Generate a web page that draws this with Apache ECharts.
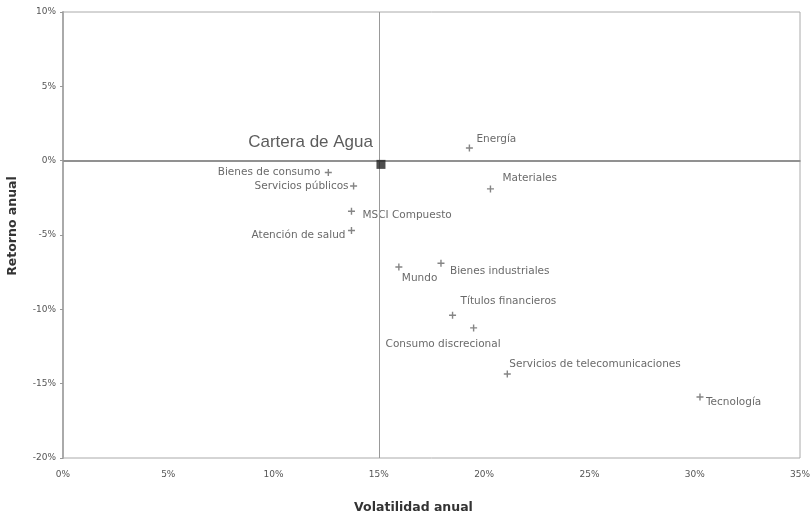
<!DOCTYPE html>
<html><head><meta charset="utf-8">
<script src="https://cdn.jsdelivr.net/npm/echarts@6/dist/echarts.min.js"></script>
<style>html,body{margin:0;padding:0;background:#fff}#c{width:811px;height:517px}</style>
</head><body><div id="c"></div>
<script>
const sectorNames = ['Energía','Materiales','Bienes de consumo','Servicios públicos','MSCI Compuesto','Atención de salud','Mundo','Bienes industriales','Títulos financieros','Consumo discrecional','Servicios de telecomunicaciones','Tecnología'];
const volatility = [19.3, 20.3, 12.6, 13.8, 13.7, 13.7, 15.95, 17.95, 18.5, 19.5, 21.1, 30.25];
const annualReturn = [0.85, -1.9, -0.8, -1.7, -3.4, -4.7, -7.15, -6.9, -10.4, -11.25, -14.35, -15.9];
const portfolioName = 'Cartera de Agua';
const portfolioVol = 15.1;
const portfolioRet = -0.25;
const xTicks = [0,5,10,15,20,25,30,35];
const yTicks = [-20,-15,-10,-5,0,5,10];

const labelStyle = {
  'Energía': {align:'left', dx:7, dy:-9},
  'Materiales': {align:'left', dx:12, dy:-11},
  'Bienes de consumo': {align:'right', dx:-8, dy:0},
  'Servicios públicos': {align:'right', dx:-5, dy:0},
  'MSCI Compuesto': {align:'left', dx:11, dy:4},
  'Atención de salud': {align:'right', dx:-6, dy:5},
  'Mundo': {align:'left', dx:3, dy:11},
  'Bienes industriales': {align:'left', dx:9, dy:8},
  'Títulos financieros': {align:'left', dx:8, dy:-14},
  'Consumo discrecional': {align:'right', dx:27, dy:16},
  'Servicios de telecomunicaciones': {align:'left', dx:2, dy:-10},
  'Tecnología': {align:'left', dx:6, dy:5}
};

const sectorData = sectorNames.map((n,i)=>{
  const s = labelStyle[n];
  return {name:n, value:[volatility[i], annualReturn[i]],
    label:{show:true, position:'inside', align:s.align, verticalAlign:'middle', offset:[s.dx,s.dy], formatter:n}};
});

const chart = echarts.init(document.getElementById('c'), null, {renderer:'canvas'});
chart.setOption({
  backgroundColor:'#fff',
  animation:false,
  textStyle:{fontFamily:'DejaVu Sans, sans-serif'},
  grid:{left:63, right:11, top:12, bottom:59, containLabel:false, outerBoundsMode:'none',
    show:true, borderColor:'#aaa', borderWidth:1},
  xAxis:{type:'value', min:0, max:35, interval:5,
    name:'Volatilidad anual', nameLocation:'middle', nameGap:43,
    nameTextStyle:{fontSize:12.5, fontWeight:'bold', color:'#333', fontFamily:'DejaVu Sans', padding:[0,36,0,0]},
    axisLine:{show:true, lineStyle:{color:'#aaa', width:2}},
    axisTick:{show:false},
    axisLabel:{fontSize:9, color:'#555', margin:12, formatter:v=>v+'%'},
    splitLine:{show:false}},
  yAxis:{type:'value', min:-20, max:10, interval:5,
    name:'Retorno anual', nameLocation:'middle', nameGap:44, nameRotate:90,
    nameTextStyle:{fontSize:12.5, fontWeight:'bold', color:'#333', fontFamily:'DejaVu Sans', padding:[0,0,0,18]},
    axisLine:{show:true, lineStyle:{color:'#aaa', width:2}},
    axisTick:{show:true, length:3, lineStyle:{color:'#999'}},
    axisLabel:{fontSize:9, color:'#555', margin:7, formatter:v=>v+'%'},
    splitLine:{show:false}},
  series:[
    {type:'scatter', name:'sectores',
     symbol:'path://M4,0 L6,0 L6,4 L10,4 L10,6 L6,6 L6,10 L4,10 L4,6 L0,6 L0,4 L4,4 Z',
     symbolSize:7, itemStyle:{color:'#666'},
     label:{fontSize:10.5, color:'#444', fontFamily:'DejaVu Sans'},
     data:sectorData,
     markLine:{silent:true, symbol:'none', label:{show:false},
       data:[{xAxis:15, lineStyle:{color:'#999', width:1, type:'solid'}},
             {yAxis:0, lineStyle:{color:'#888', width:1.5, type:'solid'}}]}},
    {type:'scatter', name:'cartera', symbol:'rect', symbolSize:9,
     itemStyle:{color:'#222'}, z:5,
     label:{show:true, position:'inside', align:'right', verticalAlign:'middle', offset:[-8,-22],
       formatter:portfolioName, fontSize:17, color:'#333', fontFamily:'Liberation Sans'},
     data:[[portfolioVol, portfolioRet]]}
  ]
});
</script></body></html>
